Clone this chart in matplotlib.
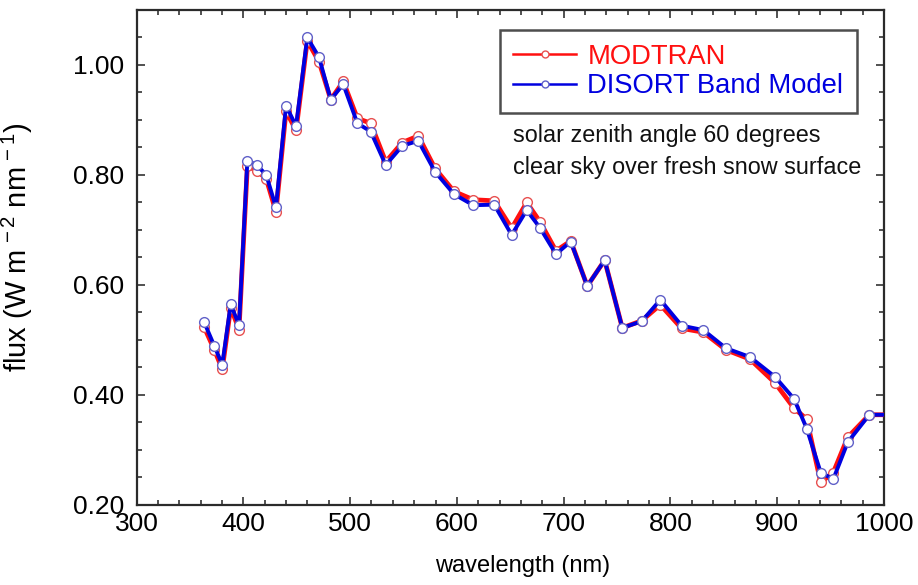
import matplotlib
matplotlib.use("Agg")
import matplotlib.pyplot as plt
from matplotlib.lines import Line2D
from matplotlib.ticker import MultipleLocator, FormatStrFormatter

plt.rcParams['font.family'] = ['Liberation Sans', 'DejaVu Sans']
plt.rcParams['mathtext.fontset'] = 'custom'
plt.rcParams['mathtext.rm'] = 'Liberation Sans'
plt.rcParams['mathtext.it'] = 'Liberation Sans'
plt.rcParams['mathtext.default'] = 'regular'

wavelength = [363.2, 372.9, 380.3, 388.2, 396.0, 403.8, 412.6, 421.5, 430.6, 440.0,
              449.4, 459.9, 470.9, 481.9, 493.6, 506.8, 519.3, 533.4, 548.9, 563.9,
              579.5, 597.3, 615.4, 635.0, 651.3, 665.4, 677.8, 692.8, 706.6, 722.1,
              738.4, 754.9, 773.1, 790.5, 810.5, 830.8, 852.0, 874.5, 897.9, 915.7,
              927.6, 940.7, 952.5, 966.0, 986.2, 1008.0]

modtran = [0.524, 0.482, 0.447, 0.559, 0.519, 0.816, 0.808, 0.793, 0.733, 0.916,
           0.881, 1.044, 1.006, 0.937, 0.970, 0.903, 0.894, 0.824, 0.859, 0.871,
           0.812, 0.770, 0.755, 0.753, 0.703, 0.750, 0.715, 0.662, 0.680, 0.598,
           0.645, 0.522, 0.535, 0.564, 0.521, 0.514, 0.482, 0.465, 0.422, 0.376,
           0.356, 0.241, 0.259, 0.323, 0.364, 0.364]

disort = [0.533, 0.489, 0.455, 0.565, 0.527, 0.826, 0.818, 0.800, 0.741, 0.926,
          0.889, 1.050, 1.014, 0.937, 0.965, 0.894, 0.879, 0.818, 0.853, 0.862,
          0.806, 0.765, 0.745, 0.746, 0.691, 0.736, 0.704, 0.656, 0.679, 0.598,
          0.645, 0.522, 0.534, 0.573, 0.526, 0.518, 0.485, 0.469, 0.433, 0.393,
          0.339, 0.259, 0.247, 0.314, 0.364, 0.364]

fig = plt.figure(figsize=(9.18, 5.85), dpi=100)
ax = fig.add_axes([0.1487, 0.1368, 0.8143, 0.8462])

ax.plot(wavelength, modtran, color='#ff1010', lw=3.4, marker='o', ms=7,
        mfc='white', mec='#e85050', mew=1.0, zorder=3)
ax.plot(wavelength, disort, color='#0000e0', lw=2.8, marker='o', ms=7,
        mfc='white', mec='#6060c8', mew=1.0, zorder=4)

ax.set_xlim(300, 1000)
ax.set_ylim(0.2, 1.1)
ax.xaxis.set_major_locator(MultipleLocator(100))
ax.xaxis.set_minor_locator(MultipleLocator(20))
ax.yaxis.set_major_locator(MultipleLocator(0.2))
ax.yaxis.set_minor_locator(MultipleLocator(0.05))
ax.yaxis.set_major_formatter(FormatStrFormatter('%.2f'))

ax.tick_params(which='both', direction='in', top=True, right=True,
               color='#333333', width=1.2)
ax.tick_params(which='major', length=6, labelsize=19)
ax.tick_params(axis='y', which='major', pad=9)
ax.tick_params(axis='x', which='major', pad=5)
ax.tick_params(which='minor', length=3.5)
for s in ax.spines.values():
    s.set_color('#2b2b2b')
    s.set_linewidth(1.6)

ax.set_xlabel('wavelength (nm)', fontsize=17)
ax.xaxis.set_label_coords(0.517, -0.102)
ax.set_ylabel('flux (W m$^{\\,-2}$ nm$^{\\,-1}$)', fontsize=21)
ax.yaxis.set_label_coords(-0.136, 0.52)

handles = [Line2D([], [], color='#ff1010', lw=1.8, marker='o', ms=5, mfc='white', mec='#e85050'),
           Line2D([], [], color='#0000e0', lw=1.8, marker='o', ms=5, mfc='white', mec='#6060c8')]
leg = ax.legend(handles, ['MODTRAN', 'DISORT Band Model'], loc='upper left',
                bbox_to_anchor=(0.486, 0.9596), fontsize=19.7, frameon=True,
                fancybox=False, edgecolor='#222222', handlelength=2.3,
                handletextpad=0.4, labelspacing=0.14, borderpad=0.5,
                borderaxespad=0)
leg.get_frame().set_linewidth(1.8)
leg.get_texts()[0].set_color('#ff1010')
leg.get_texts()[1].set_color('#0000e0')

ax.text(0.5037, 0.746, 'solar zenith angle 60 degrees', transform=ax.transAxes,
        fontsize=16.8, va='center', ha='left', color='#111111')
ax.text(0.5037, 0.681, 'clear sky over fresh snow surface', transform=ax.transAxes,
        fontsize=16.8, va='center', ha='left', color='#111111')

fig.savefig('out.png', dpi=100)
